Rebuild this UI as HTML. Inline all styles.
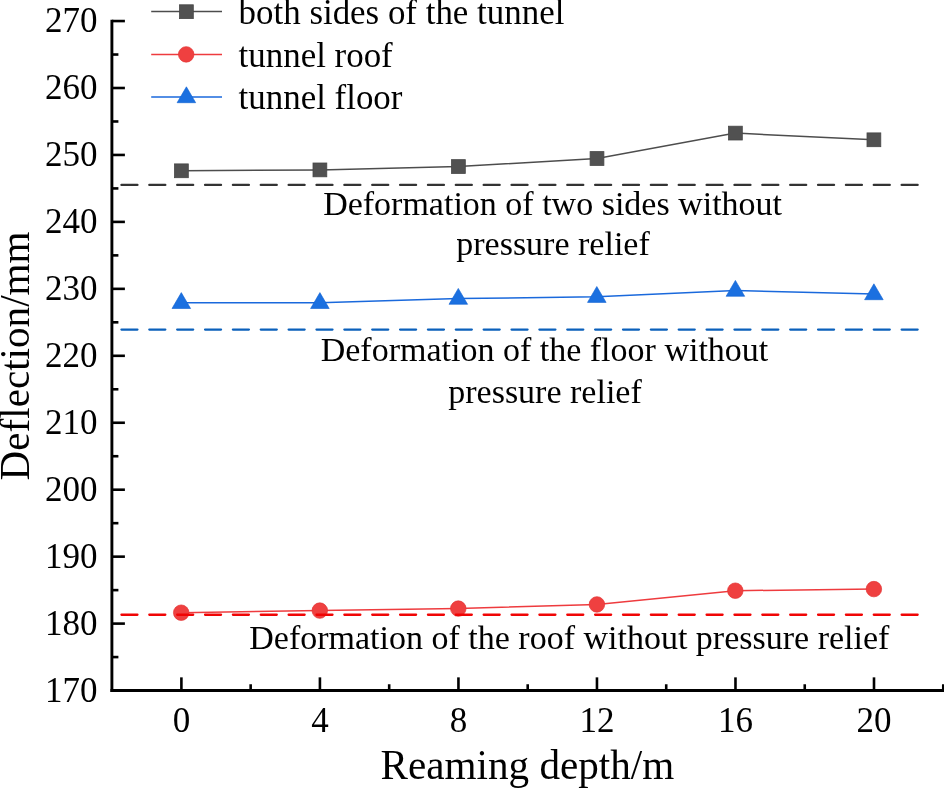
<!DOCTYPE html><html><head><meta charset="utf-8"><style>html,body{margin:0;padding:0;background:#fff}svg{display:block;will-change:transform}text{font-family:"Liberation Serif",serif;fill:#000;font-variant-ligatures:none;font-feature-settings:"liga" 0,"clig" 0}</style></head><body>
<svg width="944" height="788" viewBox="0 0 944 788">
<rect width="944" height="788" fill="#fff"/>
<polyline fill="none" stroke="#4d4d4d" stroke-width="1.5" points="181.4,170.8 319.9,169.9 458.4,166.55 597,158.5 735.4,133.1 873.9,139.8"/>
<polyline fill="none" stroke="#1a69dc" stroke-width="1.5" points="181.3,302.8 319.9,302.8 458.3,298.6 596.8,296.7 735.4,290.6 873.9,294.0"/>
<polyline fill="none" stroke="#ee3b3e" stroke-width="1.5" points="181.2,612.7 319.8,610.6 458.3,608.6 596.9,604.45 735.3,590.7 873.9,589.1"/>
<rect x="174.5" y="163.9" width="13.8" height="13.8" fill="#515151" stroke="#474747" stroke-width="0.8" paint-order="fill"/>
<rect x="313.0" y="163.0" width="13.8" height="13.8" fill="#515151" stroke="#474747" stroke-width="0.8" paint-order="fill"/>
<rect x="451.5" y="159.65" width="13.8" height="13.8" fill="#515151" stroke="#474747" stroke-width="0.8" paint-order="fill"/>
<rect x="590.1" y="151.6" width="13.8" height="13.8" fill="#515151" stroke="#474747" stroke-width="0.8" paint-order="fill"/>
<rect x="728.5" y="126.19999999999999" width="13.8" height="13.8" fill="#515151" stroke="#474747" stroke-width="0.8" paint-order="fill"/>
<rect x="867.0" y="132.9" width="13.8" height="13.8" fill="#515151" stroke="#474747" stroke-width="0.8" paint-order="fill"/>
<polygon points="181.3,292.6 190.60000000000002,308.5 172.0,308.5" fill="#1b70e0" stroke="#0f62d2" stroke-width="0.6" stroke-linejoin="miter"/>
<polygon points="319.9,292.6 329.2,308.5 310.59999999999997,308.5" fill="#1b70e0" stroke="#0f62d2" stroke-width="0.6" stroke-linejoin="miter"/>
<polygon points="458.3,288.40000000000003 467.6,304.3 449.0,304.3" fill="#1b70e0" stroke="#0f62d2" stroke-width="0.6" stroke-linejoin="miter"/>
<polygon points="596.8,286.5 606.0999999999999,302.4 587.5,302.4" fill="#1b70e0" stroke="#0f62d2" stroke-width="0.6" stroke-linejoin="miter"/>
<polygon points="735.4,280.40000000000003 744.6999999999999,296.3 726.1,296.3" fill="#1b70e0" stroke="#0f62d2" stroke-width="0.6" stroke-linejoin="miter"/>
<polygon points="873.9,283.8 883.1999999999999,299.7 864.6,299.7" fill="#1b70e0" stroke="#0f62d2" stroke-width="0.6" stroke-linejoin="miter"/>
<circle cx="181.2" cy="612.7" r="7.75" fill="#ef4040" stroke="#e23434" stroke-width="0.7"/>
<circle cx="319.8" cy="610.6" r="7.75" fill="#ef4040" stroke="#e23434" stroke-width="0.7"/>
<circle cx="458.3" cy="608.6" r="7.75" fill="#ef4040" stroke="#e23434" stroke-width="0.7"/>
<circle cx="596.9" cy="604.45" r="7.75" fill="#ef4040" stroke="#e23434" stroke-width="0.7"/>
<circle cx="735.3" cy="590.7" r="7.75" fill="#ef4040" stroke="#e23434" stroke-width="0.7"/>
<circle cx="873.9" cy="589.1" r="7.75" fill="#ef4040" stroke="#e23434" stroke-width="0.7"/>
<line x1="121.45" y1="184.95" x2="918" y2="184.95" stroke="#333333" stroke-width="2.3" stroke-linecap="round" stroke-dasharray="16 11.864"/>
<line x1="121.45" y1="329.55" x2="918" y2="329.55" stroke="#0b60bb" stroke-width="2.3" stroke-linecap="round" stroke-dasharray="16 11.864"/>
<line x1="121.45" y1="614.75" x2="918" y2="614.75" stroke="#f00505" stroke-width="2.3" stroke-linecap="round" stroke-dasharray="16 11.864"/>
<line x1="111.9" y1="19.7" x2="111.9" y2="692" stroke="#000" stroke-width="2.9"/>
<line x1="110.45" y1="690.55" x2="944" y2="690.55" stroke="#000" stroke-width="2.9"/>
<text x="97.5" y="701.55" font-size="35" text-anchor="end">170</text>
<line x1="111.9" y1="657.0749999999999" x2="118.4" y2="657.0749999999999" stroke="#000" stroke-width="2.6"/>
<line x1="111.9" y1="623.5999999999999" x2="124.9" y2="623.5999999999999" stroke="#000" stroke-width="2.6"/>
<text x="97.5" y="634.5999999999999" font-size="35" text-anchor="end">180</text>
<line x1="111.9" y1="590.125" x2="118.4" y2="590.125" stroke="#000" stroke-width="2.6"/>
<line x1="111.9" y1="556.65" x2="124.9" y2="556.65" stroke="#000" stroke-width="2.6"/>
<text x="97.5" y="567.65" font-size="35" text-anchor="end">190</text>
<line x1="111.9" y1="523.175" x2="118.4" y2="523.175" stroke="#000" stroke-width="2.6"/>
<line x1="111.9" y1="489.69999999999993" x2="124.9" y2="489.69999999999993" stroke="#000" stroke-width="2.6"/>
<text x="97.5" y="500.69999999999993" font-size="35" text-anchor="end">200</text>
<line x1="111.9" y1="456.2249999999999" x2="118.4" y2="456.2249999999999" stroke="#000" stroke-width="2.6"/>
<line x1="111.9" y1="422.74999999999994" x2="124.9" y2="422.74999999999994" stroke="#000" stroke-width="2.6"/>
<text x="97.5" y="433.74999999999994" font-size="35" text-anchor="end">210</text>
<line x1="111.9" y1="389.2749999999999" x2="118.4" y2="389.2749999999999" stroke="#000" stroke-width="2.6"/>
<line x1="111.9" y1="355.79999999999995" x2="124.9" y2="355.79999999999995" stroke="#000" stroke-width="2.6"/>
<text x="97.5" y="366.79999999999995" font-size="35" text-anchor="end">220</text>
<line x1="111.9" y1="322.32499999999993" x2="118.4" y2="322.32499999999993" stroke="#000" stroke-width="2.6"/>
<line x1="111.9" y1="288.8499999999999" x2="124.9" y2="288.8499999999999" stroke="#000" stroke-width="2.6"/>
<text x="97.5" y="299.8499999999999" font-size="35" text-anchor="end">230</text>
<line x1="111.9" y1="255.37499999999994" x2="118.4" y2="255.37499999999994" stroke="#000" stroke-width="2.6"/>
<line x1="111.9" y1="221.89999999999992" x2="124.9" y2="221.89999999999992" stroke="#000" stroke-width="2.6"/>
<text x="97.5" y="232.89999999999992" font-size="35" text-anchor="end">240</text>
<line x1="111.9" y1="188.42499999999995" x2="118.4" y2="188.42499999999995" stroke="#000" stroke-width="2.6"/>
<line x1="111.9" y1="154.94999999999993" x2="124.9" y2="154.94999999999993" stroke="#000" stroke-width="2.6"/>
<text x="97.5" y="165.94999999999993" font-size="35" text-anchor="end">250</text>
<line x1="111.9" y1="121.47499999999991" x2="118.4" y2="121.47499999999991" stroke="#000" stroke-width="2.6"/>
<line x1="111.9" y1="87.99999999999989" x2="124.9" y2="87.99999999999989" stroke="#000" stroke-width="2.6"/>
<text x="97.5" y="98.99999999999989" font-size="35" text-anchor="end">260</text>
<line x1="111.9" y1="54.52499999999998" x2="118.4" y2="54.52499999999998" stroke="#000" stroke-width="2.6"/>
<line x1="111.9" y1="21.049999999999955" x2="124.9" y2="21.049999999999955" stroke="#000" stroke-width="2.6"/>
<text x="97.5" y="32.049999999999955" font-size="35" text-anchor="end">270</text>
<line x1="181.4" y1="677.3499999999999" x2="181.4" y2="690.55" stroke="#000" stroke-width="2.6"/>
<text x="181.4" y="732" font-size="35" text-anchor="middle">0</text>
<line x1="250.66000000000003" y1="684.25" x2="250.66000000000003" y2="690.55" stroke="#000" stroke-width="2.6"/>
<line x1="319.92" y1="677.3499999999999" x2="319.92" y2="690.55" stroke="#000" stroke-width="2.6"/>
<text x="319.92" y="732" font-size="35" text-anchor="middle">4</text>
<line x1="389.18000000000006" y1="684.25" x2="389.18000000000006" y2="690.55" stroke="#000" stroke-width="2.6"/>
<line x1="458.44000000000005" y1="677.3499999999999" x2="458.44000000000005" y2="690.55" stroke="#000" stroke-width="2.6"/>
<text x="458.44000000000005" y="732" font-size="35" text-anchor="middle">8</text>
<line x1="527.7" y1="684.25" x2="527.7" y2="690.55" stroke="#000" stroke-width="2.6"/>
<line x1="596.96" y1="677.3499999999999" x2="596.96" y2="690.55" stroke="#000" stroke-width="2.6"/>
<text x="596.96" y="732" font-size="35" text-anchor="middle">12</text>
<line x1="666.22" y1="684.25" x2="666.22" y2="690.55" stroke="#000" stroke-width="2.6"/>
<line x1="735.48" y1="677.3499999999999" x2="735.48" y2="690.55" stroke="#000" stroke-width="2.6"/>
<text x="735.48" y="732" font-size="35" text-anchor="middle">16</text>
<line x1="804.74" y1="684.25" x2="804.74" y2="690.55" stroke="#000" stroke-width="2.6"/>
<line x1="874.0" y1="677.3499999999999" x2="874.0" y2="690.55" stroke="#000" stroke-width="2.6"/>
<text x="874.0" y="732" font-size="35" text-anchor="middle">20</text>
<line x1="943.26" y1="684.25" x2="943.26" y2="690.55" stroke="#000" stroke-width="2.6"/>
<line x1="151.2" y1="11.6" x2="222" y2="11.6" stroke="#4d4d4d" stroke-width="1.5"/>
<line x1="151.2" y1="54.4" x2="222" y2="54.4" stroke="#ee3b3e" stroke-width="1.5"/>
<line x1="151.2" y1="97.0" x2="222" y2="97.0" stroke="#1a69dc" stroke-width="1.5"/>
<rect x="179.5" y="4.799999999999999" width="13.8" height="13.8" fill="#515151" stroke="#474747" stroke-width="0.8" paint-order="fill"/>
<circle cx="186.2" cy="54.4" r="7.75" fill="#ef4040" stroke="#e23434" stroke-width="0.7"/>
<polygon points="186.4,86.8 195.70000000000002,102.7 177.1,102.7" fill="#1b70e0" stroke="#0f62d2" stroke-width="0.6" stroke-linejoin="miter"/>
<text x="238.6" y="24.4" font-size="34.92">both sides of the tunnel</text>
<text x="238.6" y="66.5" font-size="34.92">tunnel roof</text>
<text x="238.6" y="109.1" font-size="34.92">tunnel floor</text>
<text x="552.6" y="215" font-size="34" text-anchor="middle">Deformation of two sides without</text>
<text x="553" y="255" font-size="34" text-anchor="middle">pressure relief</text>
<text x="544.5" y="361" font-size="34" text-anchor="middle">Deformation of the floor without</text>
<text x="545" y="402.7" font-size="34" text-anchor="middle">pressure relief</text>
<text x="569.3" y="649.4" font-size="34" text-anchor="middle">Deformation of the roof without pressure relief</text>
<text x="527.4" y="779" font-size="41.15" text-anchor="middle">Reaming depth/m</text>
<text transform="translate(28.8,355.9) rotate(-90)" font-size="41.15" text-anchor="middle">Deflection/mm</text>
</svg></body></html>
